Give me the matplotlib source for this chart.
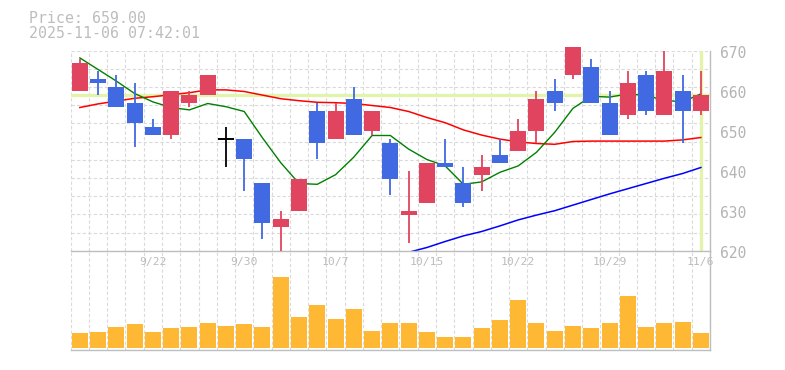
import matplotlib.pyplot as plt
from matplotlib.transforms import ScaledTranslation
import numpy as np

# daily candles, 2025-09-16 .. 2025-11-06
opens = [660, 663, 661, 657, 651, 649, 657, 659, 648, 648, 637, 626, 630, 655, 648, 658, 650, 647,
         629, 632, 642, 637, 639, 644, 645, 650, 660, 664, 666, 657, 654, 664, 654, 660, 655]
highs = [668, 665, 664, 662, 653, 660, 660, 664, 651, 648, 637, 630, 638, 657, 657, 661, 655, 648,
         640, 642, 648, 641, 644, 648, 653, 660, 663, 671, 668, 660, 665, 665, 670, 664, 665]
lows = [660, 659, 656, 646, 649, 648, 656, 659, 641, 635, 623, 620, 630, 643, 648, 649, 649, 634,
        622, 632, 641, 631, 635, 642, 645, 647, 655, 663, 657, 649, 653, 654, 654, 647, 654]
closes = [667, 662, 656, 652, 649, 660, 659, 664, 648, 643, 627, 628, 638, 647, 655, 649, 655, 638,
          630, 642, 641, 632, 641, 642, 650, 658, 657, 671, 657, 649, 662, 655, 665, 655, 659]

ma5 = [668.2, 665.3, 662.4, 659.3, 657.2, 655.8, 655.2, 656.8, 656.0, 654.8, 648.2, 642.0, 636.8,
       636.6, 639.0, 643.4, 648.8, 648.8, 645.4, 642.8, 641.2, 636.6, 637.2, 639.6, 641.2, 644.6,
       649.6, 655.6, 658.6, 658.4, 659.2, 658.8, 657.6, 657.2, 659.2]
ma25 = [655.8, 656.7, 657.4, 658.1, 658.5, 659.0, 659.5, 660.2, 660.2, 659.8, 658.9, 658.0, 657.5,
        657.1, 657.0, 656.8, 656.3, 655.8, 654.8, 653.3, 652.0, 650.2, 648.9, 647.9, 647.2, 646.8,
        646.6, 647.3, 647.4, 647.4, 647.4, 647.4, 647.4, 647.7, 648.3]
ma75 = [np.nan] * 18 + [619.6, 620.8, 622.3, 623.7, 624.8, 626.2, 627.7, 628.9, 630.0, 631.4,
                        632.8, 634.2, 635.5, 636.8, 638.1, 639.3, 640.8]

volumes = [150, 160, 210, 240, 160, 200, 210, 250, 220, 240, 210, 710, 310, 430, 290, 390, 170, 250,
           250, 160, 110, 110, 200, 280, 480, 250, 170, 220, 200, 250, 520, 210, 250, 260, 150]

tick_idx = [4, 9, 14, 19, 24, 29, 34]
tick_labels = ["9/22", "9/30", "10/7", "10/15", "10/22", "10/29", "11/6"]
last_price = 659.00
stamp = "2025-11-06 07:42:01"

up_col = "#e1445f"
down_col = "#4169e1"
grid_col = "#dadada"
frame_col = "#bdbdbd"
mono = "DejaVu Sans Mono"

fig = plt.figure(figsize=(7.85, 3.70), dpi=100)
axv = fig.add_axes([70.7 / 785, 1 - 350 / 370, 639.3 / 785, 99.3 / 370])
ax = fig.add_axes([70.7 / 785, 1 - 250.7 / 370, 639.3 / 785, 200 / 370], sharex=axv)
ax.patch.set_visible(False)

x = np.arange(len(closes))
n = len(closes)

for a in (ax, axv):
    a.set_xlim(-0.5, n - 0.5)
    a.set_xticks(np.arange(-0.5, n, 1), minor=True)
    a.grid(True, which="minor", axis="x", color=grid_col, lw=0.8, ls=(0, (3, 2)), zorder=0)
    for s in ("top", "left"):
        a.spines[s].set_visible(False)
    for s in ("bottom", "right"):
        a.spines[s].set_color(frame_col)
        a.spines[s].set_linewidth(1.0)
    a.tick_params(which="both", length=0)
    a.set_axisbelow(True)

ax.set_ylim(620, 670)
ax.set_yticks(np.linspace(620, 670, 12), minor=True)
ax.grid(True, which="minor", axis="y", color=grid_col, lw=0.8, ls=(0, (3, 2)), zorder=0)
ax.set_yticks([])
axv.set_yticks([])
axv.set_ylim(-23, 970)

ax.set_xticks(tick_idx)
ax.set_xticklabels(tick_labels, fontsize=8.2, color="#bcbcbc", family=mono)
ax.tick_params(axis="x", pad=4.5, labelbottom=True)
axv.tick_params(axis="x", labelbottom=False)

# last-price markers
ax.axhline(last_price, color="#e2f4ab", lw=2.4, zorder=1)
ax.axvline(x[-1], color="#e2f4ab", lw=2.4, zorder=1)

# moving averages
ax.plot(x, ma25, color="#ff0000", lw=1.1, zorder=2)
ax.plot(x, ma5, color="#008000", lw=1.0, zorder=2)
ax.plot(x, ma75, color="#0000ff", lw=1.1, zorder=2)

# candles
w = 0.877
for i in range(n):
    o, h, l, c = opens[i], highs[i], lows[i], closes[i]
    if c > o:
        col = up_col
    elif c < o:
        col = down_col
    else:
        col = "black"
    ax.vlines(x[i], l, h, color=col, lw=1.3, zorder=3, clip_on=False)
    if c == o:
        ax.hlines(c, x[i] - w / 2, x[i] + w / 2, color=col, lw=1.4, zorder=3)
    else:
        ax.bar(x[i], abs(c - o), bottom=min(o, c), width=w, color=col, lw=0, zorder=4, clip_on=False)

# volume
axv.bar(x, volumes, width=w, color="#ffb833", lw=0, zorder=2)

# price labels on the right
off = ScaledTranslation(0.10, -0.023, fig.dpi_scale_trans)
for v in range(620, 671, 10):
    ax.text(1, v, str(v), transform=ax.get_yaxis_transform() + off, ha="left", va="center",
            fontsize=10.5, color="#b4b4b4", family=mono)

fig.text(29 / 785, 1 - 18.3 / 370, "Price: %.2f" % last_price, fontsize=10.7, color="#bdbdbd",
         family=mono, ha="left", va="center")
fig.text(29 / 785, 1 - 33.3 / 370, stamp, fontsize=10.7, color="#bdbdbd",
         family=mono, ha="left", va="center")

fig.savefig("out.png", dpi=100, facecolor="white")
